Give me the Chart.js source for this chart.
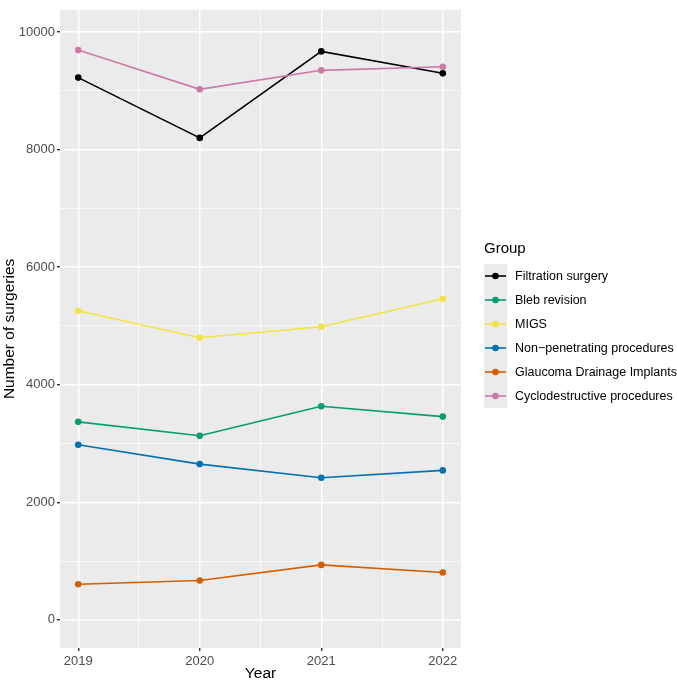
<!DOCTYPE html>
<html>
<head>
<meta charset="utf-8">
<script src="https://cdn.jsdelivr.net/npm/chart.js@4"></script>
<style>
  html, body { margin: 0; padding: 0; background: #fff; }
  #wrap { width: 677px; height: 683px; position: relative; }
</style>
</head>
<body>
<div id="wrap"><canvas id="chart"></canvas></div>
<script>
// Years on the x axis
const years = [2019, 2020, 2021, 2022];

// Surgeries per group
const filtration_surgery = [9226, 8200, 9672, 9299];
const bleb_revision = [3368, 3131, 3633, 3458];
const migs = [5258, 4800, 4987, 5462];
const non_penetrating = [2978, 2649, 2418, 2542];
const drainage_implants = [606, 669, 934, 805];
const cyclodestructive = [9694, 9027, 9350, 9412];

const group_names = [
  'Filtration surgery',
  'Bleb revision',
  'MIGS',
  'Non\u2212penetrating procedures',
  'Glaucoma Drainage Implants',
  'Cyclodestructive procedures'
];
const group_values = [filtration_surgery, bleb_revision, migs, non_penetrating, drainage_implants, cyclodestructive];
const group_colors = ['#000000', '#009E73', '#F0E442', '#0072B2', '#D55E00', '#CC79A7'];

const y_tick_labels = [0, 2000, 4000, 6000, 8000, 10000];

const FONT = "'Liberation Sans', Arial, sans-serif";

function makeDatasets() {
  return group_names.map((name, i) => ({
    label: name,
    data: years.map((yr, j) => ({ x: yr, y: group_values[i][j] })),
    borderColor: group_colors[i],
    backgroundColor: group_colors[i],
    pointBackgroundColor: group_colors[i],
    pointBorderWidth: 0,
    pointRadius: 3.3,
    borderWidth: 1.6,
    tension: 0,
    order: group_names.length - i // later groups drawn on top, like ggplot
  }));
}

// grey panel background
const panelBg = {
  id: 'panelBg',
  beforeDraw(chart) {
    const { ctx, chartArea: a } = chart;
    ctx.save();
    ctx.fillStyle = '#EBEBEB';
    ctx.fillRect(a.left, a.top, a.right - a.left, a.bottom - a.top);
    ctx.restore();
  }
};

// ggplot style legend on the right
const sideLegend = {
  id: 'sideLegend',
  afterDraw(chart) {
    const ctx = chart.ctx;
    const left = 484;
    const first_row = 276;
    const row_gap = 24;
    ctx.save();
    ctx.fillStyle = '#000';
    ctx.font = '15px ' + FONT;
    ctx.textBaseline = 'middle';
    ctx.fillText('Group', left, 249);

    ctx.fillStyle = '#EBEBEB';
    ctx.fillRect(left, first_row - 12, 23, row_gap * group_names.length);

    chart.data.datasets.forEach((ds, i) => {
      const y = first_row + i * row_gap;
      ctx.strokeStyle = ds.borderColor;
      ctx.lineWidth = 1.6;
      ctx.beginPath();
      ctx.moveTo(left + 1, y);
      ctx.lineTo(left + 22, y);
      ctx.stroke();
      ctx.fillStyle = ds.borderColor;
      ctx.beginPath();
      ctx.arc(left + 11.5, y, 3.3, 0, Math.PI * 2);
      ctx.fill();
      ctx.fillStyle = '#000';
      ctx.font = '12.5px ' + FONT;
      ctx.fillText(ds.label, 515, y + 0.5);
    });
    ctx.restore();
  }
};

const config = {
  type: 'line',
  data: { datasets: makeDatasets() },
  options: {
    responsive: false,
    animation: false,
    layout: { padding: { top: 8, right: 216, left: 0, bottom: 0 } },
    plugins: {
      legend: { display: false },
      tooltip: { enabled: false }
    },
    scales: {
      x: {
        type: 'linear',
        min: 2018.85,
        max: 2022.15,
        afterFit(scale) { scale.height = 35; },
        afterBuildTicks(scale) {
          scale.ticks = [2019, 2019.5, 2020, 2020.5, 2021, 2021.5, 2022].map(v => ({ value: v }));
        },
        border: { display: false },
        grid: {
          color: '#FFFFFF',
          lineWidth: c => (Number.isInteger(c.tick.value) ? 1.4 : 0.7),
          tickColor: c => (Number.isInteger(c.tick.value) ? '#333333' : 'rgba(0,0,0,0)'),
          tickLength: 3
        },
        ticks: {
          autoSkip: false,
          maxRotation: 0,
          padding: 3,
          color: '#4D4D4D',
          font: { family: FONT, size: 13 },
          callback: v => (Number.isInteger(v) ? String(v) : '')
        },
        title: {
          display: true,
          text: 'Year',
          color: '#000',
          font: { family: FONT, size: 15.5 },
          padding: { top: 3, bottom: 0 }
        }
      },
      y: {
        min: -480,
        max: 10380,
        afterFit(scale) { scale.width = 60; },
        afterBuildTicks(scale) {
          const t = [];
          for (let v = 0; v <= 10000; v += 1000) t.push({ value: v });
          scale.ticks = t;
        },
        border: { display: false },
        grid: {
          color: '#FFFFFF',
          lineWidth: c => (y_tick_labels.includes(c.tick.value) ? 1.4 : 0.7),
          tickColor: c => (y_tick_labels.includes(c.tick.value) ? '#333333' : 'rgba(0,0,0,0)'),
          tickLength: 3
        },
        ticks: {
          padding: 2,
          color: '#4D4D4D',
          font: { family: FONT, size: 13 },
          callback: v => (y_tick_labels.includes(v) ? String(v) : '')
        },
        title: {
          display: true,
          text: 'Number of surgeries',
          color: '#000',
          font: { family: FONT, size: 15.5 },
          padding: { top: 0, bottom: 0 }
        }
      }
    }
  },
  plugins: [panelBg, sideLegend]
};

const canvas = document.getElementById('chart');
canvas.width = 677;
canvas.height = 683;
new Chart(canvas.getContext('2d'), config);
</script>
</body>
</html>
